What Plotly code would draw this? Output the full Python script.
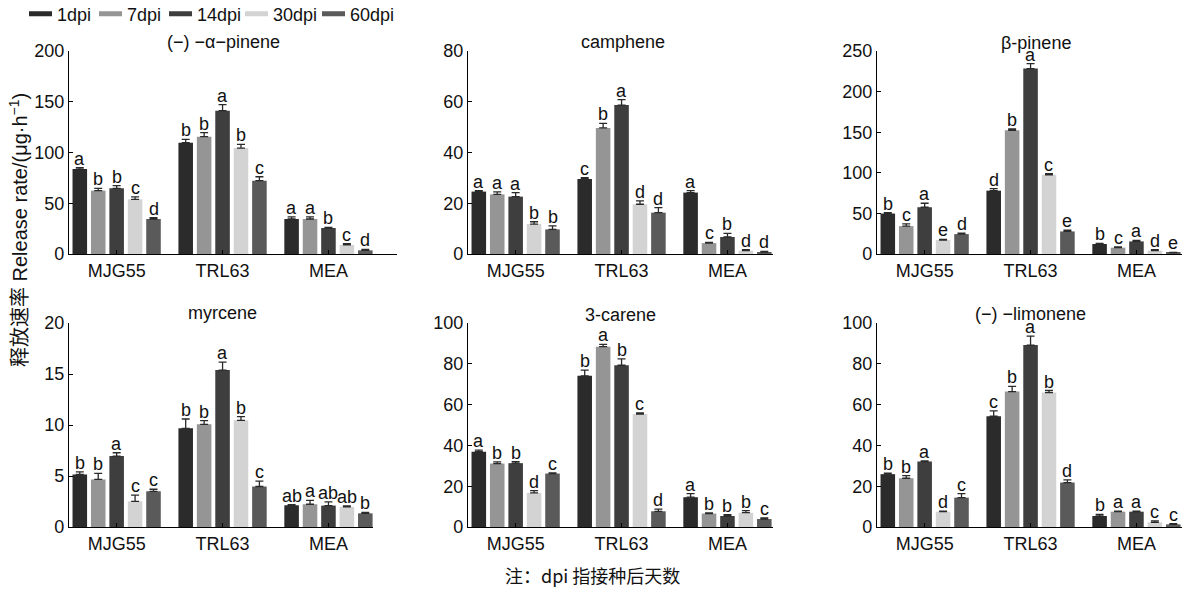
import plotly.graph_objects as go

categories = ["MJG55", "TRL63", "MEA"]
series = ["1dpi", "7dpi", "14dpi", "30dpi", "60dpi"]
colors = ["#2b2b2b", "#959595", "#3e3e3e", "#d3d3d3", "#5a5a5a"]

titles = ["(−) −α−pinene", "camphene", "β-pinene", "myrcene", "3-carene", "(−) −limonene"]
y_max = [200, 80, 250, 20, 100, 100]
y_dtick = [50, 20, 50, 5, 20, 20]

# rows = categories (MJG55, TRL63, MEA); columns = 1, 7, 14, 30, 60 dpi
apinene_mean = [[83.7, 62.4, 64.7, 53.9, 34.5], [109.7, 115.6, 141.2, 104.4, 72.2], [34.5, 34.5, 25.6, 8.9, 3.6]]
apinene_err = [[1.3, 2.3, 2.6, 2.3, 1.3], [3.3, 3.9, 5.9, 3.6, 3.9], [2.0, 2.0, 0.7, 1.3, 1.0]]
apinene_sig = [["a", "b", "b", "c", "d"], ["b", "b", "a", "b", "c"], ["a", "a", "b", "c", "d"]]

camphene_mean = [[24.6, 23.5, 22.6, 11.8, 9.7], [29.6, 49.7, 58.7, 19.6, 16.3], [24.2, 4.3, 6.7, 1.3, 0.7]]
camphene_err = [[0.4, 1.0, 1.6, 0.9, 1.4], [0.5, 1.8, 2.1, 1.3, 2.0], [0.8, 0.3, 1.4, 0.4, 0.3]]
camphene_sig = [["a", "a", "a", "b", "b"], ["c", "b", "a", "d", "d"], ["a", "c", "b", "d", "d"]]

bpinene_mean = [[49.8, 34.3, 57.6, 17.2, 24.5], [78.0, 152.4, 228.4, 97.6, 27.8], [12.3, 7.8, 15.5, 4.1, 1.6]]
bpinene_err = [[1.2, 2.9, 4.9, 0.8, 1.2], [2.5, 1.6, 6.1, 1.2, 1.6], [0.8, 0.8, 1.2, 1.2, 0.4]]
bpinene_sig = [["b", "c", "a", "e", "d"], ["d", "b", "a", "c", "e"], ["b", "c", "a", "d", "e"]]

myrcene_mean = [[5.15, 4.66, 6.95, 2.52, 3.5], [9.67, 10.07, 15.38, 10.46, 3.97], [2.13, 2.23, 2.1, 1.97, 1.34]]
myrcene_err = [[0.26, 0.6, 0.33, 0.6, 0.2], [0.92, 0.36, 0.79, 0.36, 0.52], [0.07, 0.39, 0.36, 0.1, 0.1]]
myrcene_sig = [["b", "b", "a", "c", "c"], ["b", "b", "a", "b", "c"], ["ab", "a", "ab", "ab", "b"]]

carene_mean = [[36.9, 31.1, 31.3, 16.7, 26.2], [74.1, 88.4, 79.3, 55.4, 7.7], [14.6, 6.6, 5.4, 7.0, 3.9]]
carene_err = [[0.8, 0.8, 0.7, 1.1, 0.3], [2.8, 1.1, 3.1, 0.5, 1.1], [1.8, 0.3, 0.7, 1.0, 0.5]]
carene_sig = [["a", "b", "b", "d", "c"], ["b", "a", "b", "c", "d"], ["a", "b", "b", "b", "c"]]

limonene_mean = [[25.9, 23.9, 32.1, 7.5, 14.4], [54.3, 66.4, 89.2, 65.9, 21.8], [5.4, 7.5, 7.5, 2.3, 1.3]]
limonene_err = [[0.5, 1.3, 0.3, 0.3, 2.0], [2.6, 2.5, 4.4, 1.0, 1.3], [0.8, 0.3, 0.3, 0.7, 0.3]]
limonene_sig = [["b", "b", "a", "d", "c"], ["c", "b", "a", "b", "d"], ["b", "a", "a", "c", "c"]]

means = [apinene_mean, camphene_mean, bpinene_mean, myrcene_mean, carene_mean, limonene_mean]
errs = [apinene_err, camphene_err, bpinene_err, myrcene_err, carene_err, limonene_err]
sigs = [apinene_sig, camphene_sig, bpinene_sig, myrcene_sig, carene_sig, limonene_sig]

# ---- layout geometry (page pixels; body margin removed so the figure starts at 0,0) ----
W, H = 1192, 594
x_px = [(69, 397), (468, 773), (877, 1182), (69, 373), (468, 773), (877, 1182)]
y_px = [(51, 254)] * 3 + [(323, 527)] * 3
title_px = [(223, 42), (623, 42), (1036, 43), (222, 313), (620, 315), (1030, 314)]
legend_text_px = [57, 127, 197, 273, 350]
cat_w = 105.9
bargap = 0.13
slot = (1 - bargap) / len(series)


def px_x(v):
    return v / W


def px_y(v):
    return 1 - v / H


FONT = "Liberation Sans, Arial, Noto Sans CJK SC, sans-serif"
fs = 18

fig = go.Figure()
annotations = []
for p in range(6):
    xa = "x" if p == 0 else f"x{p+1}"
    ya = "y" if p == 0 else f"y{p+1}"
    for k, s in enumerate(series):
        yv = [means[p][c][k] for c in range(3)]
        ev = [errs[p][c][k] for c in range(3)]
        fig.add_trace(go.Bar(
            x=categories, y=yv, name=s, xaxis=xa, yaxis=ya,
            marker=dict(color=colors[k], line=dict(width=0)),
            error_y=dict(type="data", array=ev, arrayminus=[0] * 3, symmetric=False,
                         color="#2a2a2a", thickness=1.3, width=4),
            showlegend=False,
        ))
        for c in range(3):
            annotations.append(dict(
                x=c + (k - 2) * slot, y=yv[c] + ev[c], xref=xa, yref=ya,
                text=sigs[p][c][k], showarrow=False, yanchor="bottom", yshift=-3,
                font=dict(size=fs, color="#111", family=FONT),
            ))
    x0, x1 = x_px[p]
    y0, y1 = y_px[p]
    xr_end = -0.45 + (x1 - x0) / cat_w
    axx = dict(domain=[px_x(x0), px_x(x1)], range=[-0.45, xr_end], anchor=ya,
               showline=True, linecolor="black", linewidth=1.2, showgrid=False, zeroline=False,
               ticks="inside", ticklen=4, tickcolor="black", automargin=False,
               tickfont=dict(size=fs, color="#111", family=FONT), fixedrange=True)
    axy = dict(domain=[px_y(y1), px_y(y0)], range=[0, y_max[p]], dtick=y_dtick[p], anchor=xa,
               showline=True, linecolor="black", linewidth=1.2, showgrid=False, zeroline=False,
               ticks="inside", ticklen=4, tickcolor="black", automargin=False,
               tickfont=dict(size=fs, color="#111", family=FONT), fixedrange=True)
    fig.layout[("xaxis" if p == 0 else f"xaxis{p+1}")] = axx
    fig.layout[("yaxis" if p == 0 else f"yaxis{p+1}")] = axy
    tx, ty = title_px[p]
    annotations.append(dict(x=px_x(tx), y=px_y(ty), xref="paper", yref="paper", text=titles[p],
                            showarrow=False, xanchor="center", yanchor="middle",
                            font=dict(size=fs, color="#111", family=FONT)))

# legend entries: one small legend per series so each sits where the reference has it
for k, s in enumerate(series):
    lg = "legend" if k == 0 else f"legend{k+1}"
    fig.add_trace(go.Scatter(x=[None], y=[None], mode="lines", name=s, legend=lg,
                             line=dict(color=colors[k], width=5, dash="0px,7px,23px,100px"),
                             xaxis="x", yaxis="y"))
    fig.layout[lg] = dict(orientation="h", x=px_x(legend_text_px[k] - 40), y=px_y(14),
                          xanchor="left", yanchor="middle", borderwidth=0,
                          font=dict(size=fs, color="#111", family=FONT), bgcolor="rgba(0,0,0,0)",
                          itemclick=False, itemdoubleclick=False)

annotations.append(dict(x=px_x(18), y=px_y(230), xref="paper", yref="paper",
                        text="释放速率 Release rate/(μg·h<sup>−1</sup>)", textangle=-90,
                        showarrow=False, xanchor="center", yanchor="middle",
                        font=dict(size=20, color="#111", family=FONT)))
annotations.append(dict(x=px_x(592), y=px_y(575), xref="paper", yref="paper",
                        text="注：dpi 指接种后天数", showarrow=False, xanchor="center", yanchor="middle",
                        font=dict(size=fs, color="#111", family="Noto Sans CJK SC, Liberation Sans, sans-serif")))

fig.update_layout(
    width=W, height=H, margin=dict(l=0, r=0, t=0, b=0, pad=0, autoexpand=False),
    paper_bgcolor="white", plot_bgcolor="white",
    barmode="group", bargap=bargap, bargroupgap=0.21,
    annotations=annotations,
    font=dict(family=FONT, color="#111"),
    showlegend=True,
    hovermode=False,
)

fig.write_html("out.html", config={"displayModeBar": False, "staticPlot": False},
               post_script="document.body.style.margin='0px';")
